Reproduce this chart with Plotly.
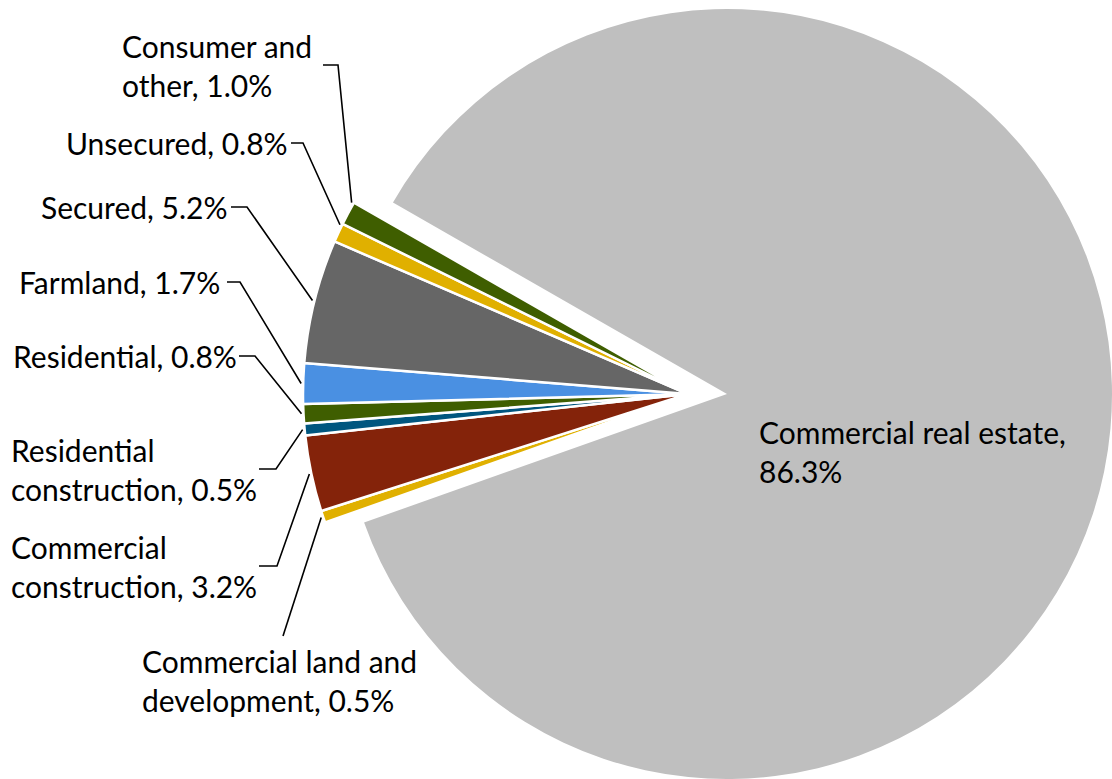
import math
import plotly.graph_objects as go

# ---- data -------------------------------------------------------------
categories = [
    "Commercial land and development",
    "Commercial construction",
    "Residential construction",
    "Residential",
    "Farmland",
    "Secured",
    "Unsecured",
    "Consumer and other",
    "Commercial real estate",
]
shares = [0.5, 3.2, 0.5, 0.8, 1.7, 5.2, 0.8, 1.0, 86.3]

# label wording (line breaks) for each category
label_names = [
    "Commercial land and<br>development",
    "Commercial<br>construction",
    "Residential<br>construction",
    "Residential",
    "Farmland",
    "Secured",
    "Unsecured",
    "Consumer and<br>other",
    "Commercial real estate",
]
label_seps = [", ", ", ", ", ", ", ", ", ", ", ", ", ", ", ", ",<br>"]

colors = ["#E0B000", "#84230A", "#00567F", "#3F5E00", "#4A90E2",
          "#666666", "#E0B000", "#3F5E00", "#BFBFBF"]

# ---- layout constants (pixels) ---------------------------------------
W, H = 1112, 779
R = 385            # pie radius
CY = 394           # pie centre y
CX_MAIN = 727      # centre of the large (exploded) slice
CX_SMALL = 688     # centre of the remaining slices
ROTATION = 250.5   # start angle, clockwise from 12 o'clock

# label placement: left x, middle y, leader start x, elbow x, fraction along slice
label_layout = [
    dict(x=140, y=680, lx=None, ex=283, ey=636, frac=0.5),
    dict(x=9, y=566, lx=259, ex=277, frac=0.5),
    dict(x=9, y=469, lx=259, ex=276, frac=0.5),
    dict(x=11, y=356, lx=239, ex=255, frac=0.5),
    dict(x=17, y=282, lx=227, ex=240, frac=0.5),
    dict(x=39, y=207, lx=231, ex=247, frac=0.5),
    dict(x=64, y=143, lx=291, ex=303, frac=0.9),
    dict(x=120, y=65, lx=323, ex=338, frac=0.95),
    dict(x=757, y=451, lx=None, ex=None, frac=0.5),
]

FONT = dict(family="Lato, 'Open Sans', sans-serif", size=30, color="#000000")

n_small = len(categories) - 1
clear = "rgba(0,0,0,0)"


def domain_for(cx):
    return dict(x=[(cx - R) / W, (cx + R) / W], y=[0, 2 * R / H])


fig = go.Figure()

# large slice, pulled to the right
fig.add_trace(go.Pie(
    labels=categories, values=shares, sort=False, direction="clockwise",
    rotation=ROTATION, textinfo="none", hoverinfo="label+percent",
    marker=dict(colors=[clear] * n_small + [colors[-1]],
                line=dict(color="white", width=[0] * len(categories))),
    domain=domain_for(CX_MAIN), showlegend=False,
))

# remaining slices
fig.add_trace(go.Pie(
    labels=categories, values=shares, sort=False, direction="clockwise",
    rotation=ROTATION, textinfo="none", hoverinfo="label+percent",
    marker=dict(colors=colors[:-1] + [clear],
                line=dict(color="white", width=[2.5] * n_small + [0])),
    domain=domain_for(CX_SMALL), showlegend=False,
))


def px_to_paper(x, y):
    return x / W, 1 - y / H


total = sum(shares)
cum = 0.0
annotations = []
shapes = []
for name, sep, val, pos in zip(label_names, label_seps, shares, label_layout):
    start = ROTATION + 360.0 * cum / total
    ang = math.radians(start + 360.0 * val / total * pos["frac"])
    cum += val

    text = f"{name}{sep}{val:.1f}%"
    ax, ay = px_to_paper(pos["x"], pos["y"])
    annotations.append(dict(
        text=text, x=ax, y=ay, xref="paper", yref="paper",
        xanchor="left", yanchor="middle", align="left",
        showarrow=False, font=FONT,
    ))

    if pos["ex"] is None:
        continue
    # point on the slice's outer edge
    tx = CX_SMALL + (R + 2) * math.sin(ang)
    ty = CY - (R + 2) * math.cos(ang)
    pts = []
    if pos["lx"] is not None:
        pts.append((pos["lx"], pos["y"]))
        pts.append((pos["ex"], pos["y"]))
    else:
        pts.append((pos["ex"], pos["ey"]))
    pts.append((tx, ty))
    path = ""
    for i, (px, py) in enumerate(pts):
        xp, yp = px_to_paper(px, py)
        path += ("M" if i == 0 else "L") + f"{xp:.5f},{yp:.5f} "
    shapes.append(dict(type="path", path=path.strip(), xref="paper", yref="paper",
                       line=dict(color="#000000", width=1.6)))

fig.update_layout(
    width=W, height=H,
    margin=dict(l=0, r=0, t=0, b=0),
    paper_bgcolor="white", plot_bgcolor="white",
    annotations=annotations, shapes=shapes,
)

fig.write_html("out.html")
